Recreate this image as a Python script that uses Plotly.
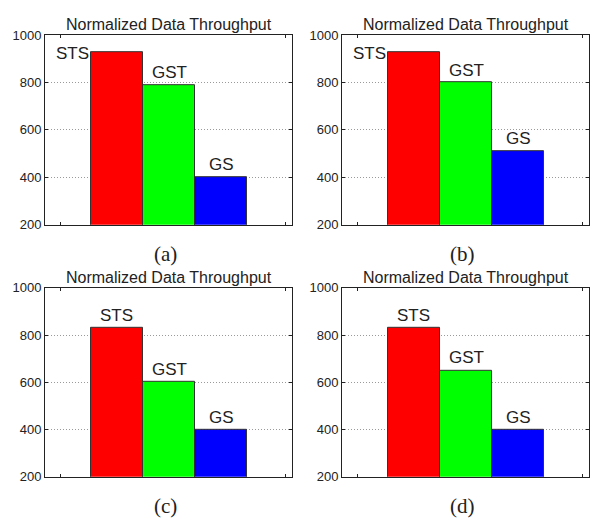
import plotly.graph_objects as go

categories = ["STS", "GST", "GS"]
colors = ["#ff0000", "#00ff00", "#0000ff"]
values_a = [930, 790, 400]
values_b = [930, 800, 510]
values_c = [830, 600, 400]
values_d = [830, 650, 400]
panel_labels = ["(a)", "(b)", "(c)", "(d)"]
title_text = "Normalized Data Throughput"
y_ticks = [200, 400, 600, 800, 1000]

W, H = 597, 529
panels = [
    dict(vals=values_a, x0=45, x1=292, y0=29, y1=224, side_sts=True),
    dict(vals=values_b, x0=342, x1=589, y0=29, y1=224, side_sts=True),
    dict(vals=values_c, x0=45, x1=292, y0=289, y1=483.5, side_sts=False),
    dict(vals=values_d, x0=342, x1=589, y0=289, y1=483.5, side_sts=False),
]

fig = go.Figure()
annotations = []
xpos = list(range(len(categories)))
for i, p in enumerate(panels):
    n = "" if i == 0 else str(i + 1)
    xa = "x" + n
    ya = "y" + n
    fig.add_trace(go.Bar(
        x=xpos, y=p["vals"], width=1.0, base=0,
        marker=dict(color=colors, line=dict(color="#333333", width=1)),
        xaxis=xa, yaxis=ya, showlegend=False, hoverinfo="skip",
    ))
    common_ax = dict(showline=True, linecolor="#222222", linewidth=1, mirror="ticks",
                     ticks="inside", ticklen=3, tickcolor="#222222", zeroline=False)
    fig.update_layout(**{
        "xaxis" + n: dict(domain=[p["x0"] / W, p["x1"] / W], range=[-1.375, 3.356],
                          tickvals=[-1.075, 3.222], showticklabels=False, showgrid=False,
                          anchor=ya, **common_ax),
        "yaxis" + n: dict(domain=[1 - p["y1"] / H, 1 - p["y0"] / H], range=[200, 1000],
                          tickvals=y_ticks, showgrid=True, gridcolor="#9a9a9a",
                          griddash="1px,2px", gridwidth=1, anchor=xa,
                          tickfont=dict(family="Liberation Sans, Arial", size=13, color="#222222"),
                          **common_ax),
    })
    for j, (c, v) in enumerate(zip(categories, p["vals"])):
        if j == 0 and p["side_sts"]:
            annotations.append(dict(x=xpos[j] - 0.5, y=v, xref=xa, yref=ya, text=c,
                                    showarrow=False, xanchor="right", yanchor="middle",
                                    yshift=-2,
                                    font=dict(family="Liberation Sans, Arial", size=17, color="#222222")))
        else:
            annotations.append(dict(x=xpos[j], y=v, xref=xa, yref=ya, text=c,
                                    showarrow=False, xanchor="center", yanchor="bottom",
                                    yshift=1,
                                    font=dict(family="Liberation Sans, Arial", size=17, color="#222222")))
    annotations.append(dict(x=(p["x0"] + p["x1"]) / 2 / W, y=1 - p["y0"] / H, xref="paper", yref="paper",
                            text=title_text, showarrow=False, xanchor="center", yanchor="bottom",
                            font=dict(family="Liberation Sans, Arial", size=16, color="#222222")))
    annotations.append(dict(x=((p["x0"] + p["x1"]) / 2 - 3) / W, y=1 - (p["y1"] + 30) / H,
                            xref="paper", yref="paper", text=panel_labels[i], showarrow=False,
                            xanchor="center", yanchor="middle",
                            font=dict(family="Liberation Serif, Times New Roman", size=21, color="#222222")))

fig.update_layout(width=W, height=H, margin=dict(l=0, r=0, t=0, b=0, pad=0),
                  paper_bgcolor="white", plot_bgcolor="white", bargap=0,
                  annotations=annotations)
fig.write_html("out.html", config={"displayModeBar": False},
               post_script="document.body.style.margin='0';document.body.style.overflow='hidden';")
